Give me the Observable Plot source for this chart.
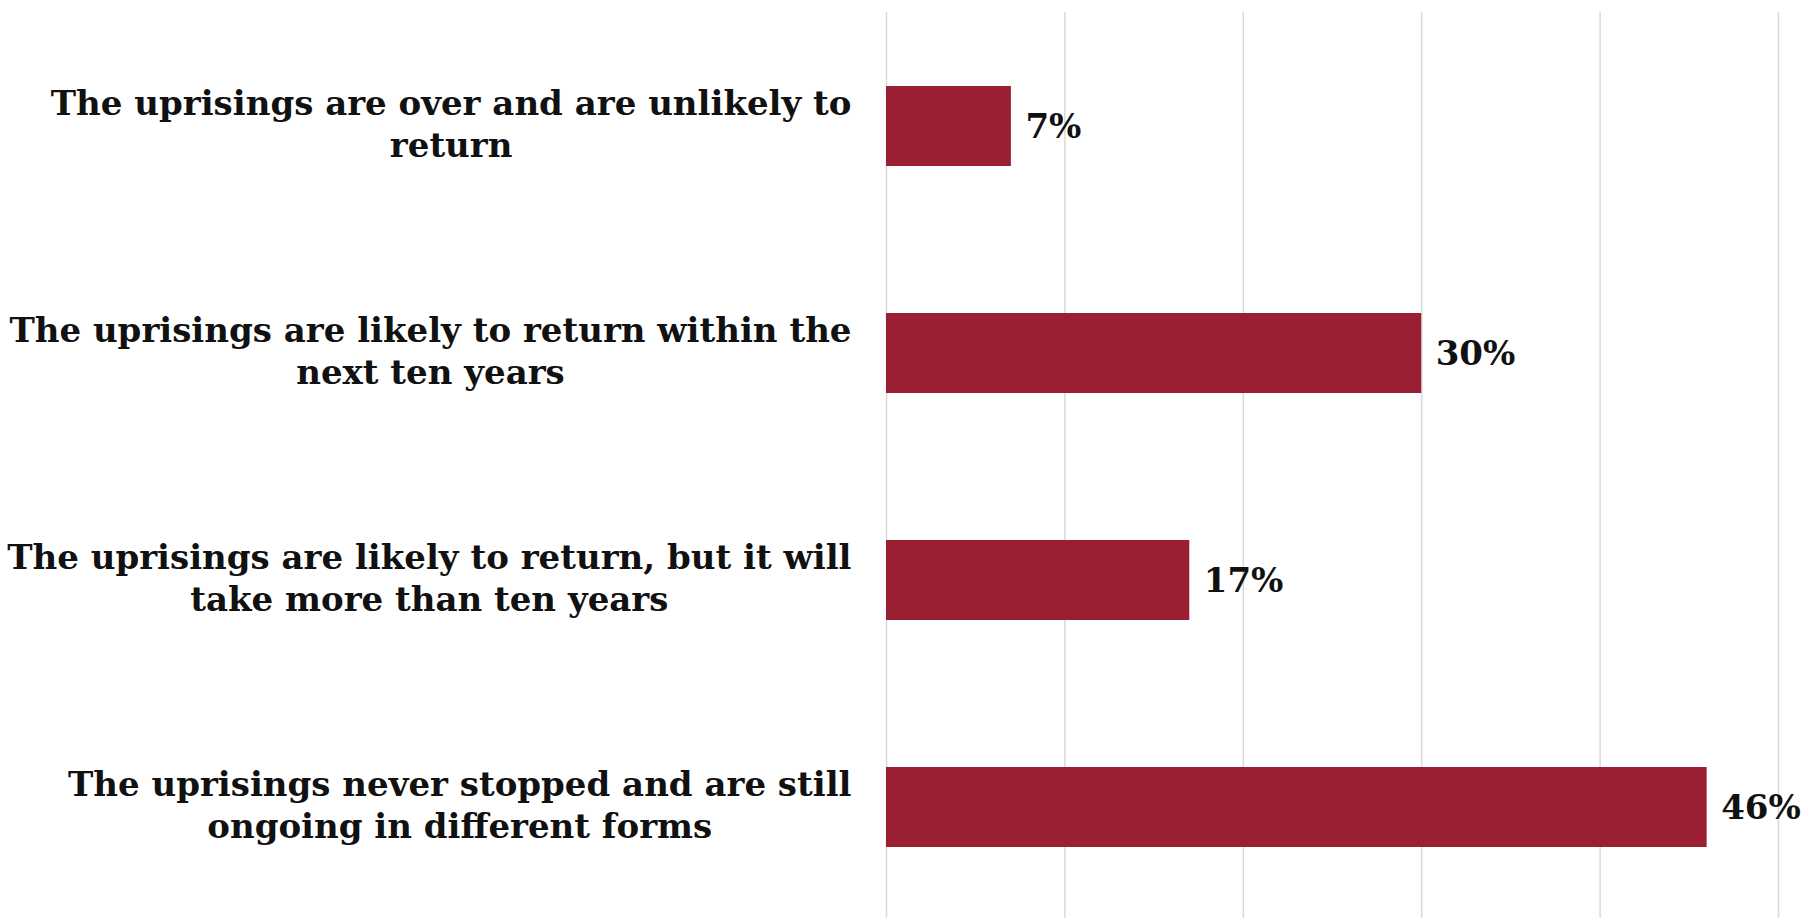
<!DOCTYPE html>
<html>
<head>
<meta charset="utf-8">
<script src="https://cdn.jsdelivr.net/npm/d3@7"></script>
<script src="https://cdn.jsdelivr.net/npm/@observablehq/plot@0.6"></script>
<style>
  html, body { margin: 0; padding: 0; background: #ffffff; overflow: hidden; }
  #chart svg { display: block; }
</style>
</head>
<body>
<div id="chart"></div>
<script>
const categories = [
  "The uprisings are over and are unlikely to\nreturn",
  "The uprisings are likely to return within the\nnext ten years",
  "The uprisings are likely to return, but it will\ntake more than ten years",
  "The uprisings never stopped and are still\nongoing in different forms"
];
const values = [7, 30, 17, 46];
const gridTicks = [0, 10, 20, 30, 40, 50];

const data = categories.map((c, i) => ({category: c, value: values[i]}));
const font = "'DejaVu Serif', Georgia, serif";
const marginLeft = 886;
const labelRight = 851;   // right edge of each category label block
const labelCenter = 453;

const chart = Plot.plot({
  width: 1802,
  height: 918,
  marginLeft,
  marginRight: 24,
  marginTop: 12,
  marginBottom: -3,
  style: {fontFamily: font, background: "#ffffff"},
  x: {domain: [0, 50], axis: null},
  y: {domain: categories, axis: null, paddingInner: 0.648, paddingOuter: 0.324},
  marks: [
    Plot.ruleX(gridTicks, {stroke: "#d9d9d9", strokeWidth: 1.5}),
    Plot.barX(data, {y: "category", x: "value", fill: "#9a1f33"}),
    Plot.text(data, {
      y: "category", x: "value", text: d => d.value + "%",
      dx: 14, dy: 1, textAnchor: "start", fontSize: 34, fontWeight: "bold", fill: "#111111"
    }),
    Plot.text(data, {
      y: "category", text: "category", frameAnchor: "left", dx: -(marginLeft - labelCenter), dy: -4,
      textAnchor: "middle", fontSize: 34, fontWeight: "bold", fill: "#111111",
      lineHeight: 1.22, className: "cat-label"
    })
  ]
});
document.getElementById("chart").appendChild(chart);

// Each label block is centred on its own longest line and right-aligned next to the axis
chart.querySelectorAll(".cat-label text").forEach(el => {
  const w = el.getBBox().width;
  const shift = (labelRight - w / 2) - labelCenter;
  const t = el.getAttribute("transform") || "";
  el.setAttribute("transform", (t + ` translate(${shift},0)`).trim());
});
</script>
</body>
</html>
